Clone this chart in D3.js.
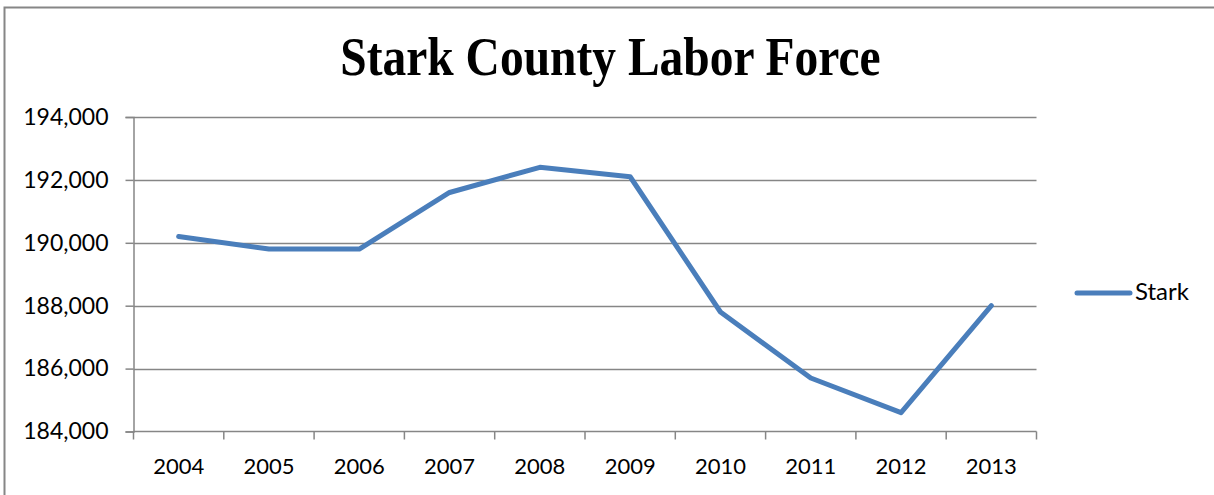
<!DOCTYPE html>
<html>
<head>
<meta charset="utf-8">
<script src="https://cdn.jsdelivr.net/npm/d3@7"></script>
<style>
  html, body { margin: 0; padding: 0; background: #fff; }
  svg { display: block; }
</style>
</head>
<body>
<svg id="chart" width="1214" height="495"></svg>
<script>
const title = "Stark County Labor Force";
const years = ["2004","2005","2006","2007","2008","2009","2010","2011","2012","2013"];
const seriesName = "Stark";
const laborForce = [190200, 189800, 189800, 191600, 192400, 192100, 187800, 185700, 184600, 188000];
const yTicks = [184000, 186000, 188000, 190000, 192000, 194000];

const svg = d3.select("#chart");
const W = 1214, H = 495;
const lineColor = "#4A7EBB";
const axisColor = "#868686";
const labelFont = "Lato, 'Open Sans', sans-serif";

// outer border (left + top visible)
svg.append("rect")
  .attr("x", 4.5).attr("y", 7.5)
  .attr("width", W + 20).attr("height", H + 20)
  .attr("fill", "none").attr("stroke", axisColor).attr("stroke-width", 2);

const plot = { left: 133.5, right: 1036.5, top: 117, bottom: 431.5 };

const x = d3.scaleBand().domain(years).range([plot.left, plot.right]).paddingInner(0).paddingOuter(0);
const y = d3.scaleLinear().domain([184000, 194000]).range([plot.bottom, plot.top]);

// gridlines
svg.append("g")
  .selectAll("line").data(yTicks.slice(1)).join("line")
  .attr("x1", plot.left).attr("x2", plot.right)
  .attr("y1", d => Math.round(y(d)) + 0.5).attr("y2", d => Math.round(y(d)) + 0.5)
  .attr("stroke", axisColor).attr("stroke-width", 1.5);

// y axis
const yAxis = d3.axisLeft(y).tickValues(yTicks).tickFormat(d3.format(",")).tickSize(8).tickPadding(17);
const gy = svg.append("g").attr("transform", `translate(${plot.left},0)`).call(yAxis);
gy.select(".domain").attr("stroke", axisColor).attr("stroke-width", 1.5);
gy.selectAll(".tick line").attr("stroke", axisColor).attr("stroke-width", 1.5);
gy.selectAll(".tick text").attr("font-family", labelFont).attr("font-size", 23).attr("fill", "#000");

// x axis with ticks at category boundaries
const gx = svg.append("g").attr("transform", `translate(0,${plot.bottom})`);
gx.append("line").attr("x1", plot.left).attr("x2", plot.right).attr("y1", 0).attr("y2", 0)
  .attr("stroke", axisColor).attr("stroke-width", 1.5);
const boundaries = years.map(d => x(d)).concat([x(years[years.length - 1]) + x.bandwidth()]);
gx.selectAll("line.tk").data(boundaries).join("line").attr("class", "tk")
  .attr("x1", d => d).attr("x2", d => d).attr("y1", 0).attr("y2", 8)
  .attr("stroke", axisColor).attr("stroke-width", 1.5);
gx.selectAll("text").data(years).join("text")
  .attr("x", d => x(d) + x.bandwidth() / 2).attr("y", 42.5)
  .attr("text-anchor", "middle")
  .attr("font-family", labelFont).attr("font-size", 22).attr("fill", "#000")
  .text(d => d);

// line
const line = d3.line()
  .x((d, i) => x(years[i]) + x.bandwidth() / 2)
  .y(d => y(d));
svg.append("path").datum(laborForce)
  .attr("d", line)
  .attr("fill", "none").attr("stroke", lineColor).attr("stroke-width", 5)
  .attr("stroke-linejoin", "round").attr("stroke-linecap", "round");

// title (slightly taller than wide, as in the reference)
svg.append("text")
  .attr("transform", "translate(610.5,75) scale(1,1.15)")
  .attr("text-anchor", "middle")
  .attr("font-family", "'Liberation Serif', 'Times New Roman', serif")
  .attr("font-weight", "bold").attr("font-size", 47.5)
  .attr("fill", "#000")
  .text(title);

// legend
const lg = svg.append("g");
lg.append("line").attr("x1", 1077).attr("x2", 1130).attr("y1", 293).attr("y2", 293)
  .attr("stroke", lineColor).attr("stroke-width", 5).attr("stroke-linecap", "round");
lg.append("text").attr("x", 1135).attr("y", 300)
  .attr("font-family", labelFont).attr("font-size", 24).attr("fill", "#000")
  .text(seriesName);
</script>
</body>
</html>
